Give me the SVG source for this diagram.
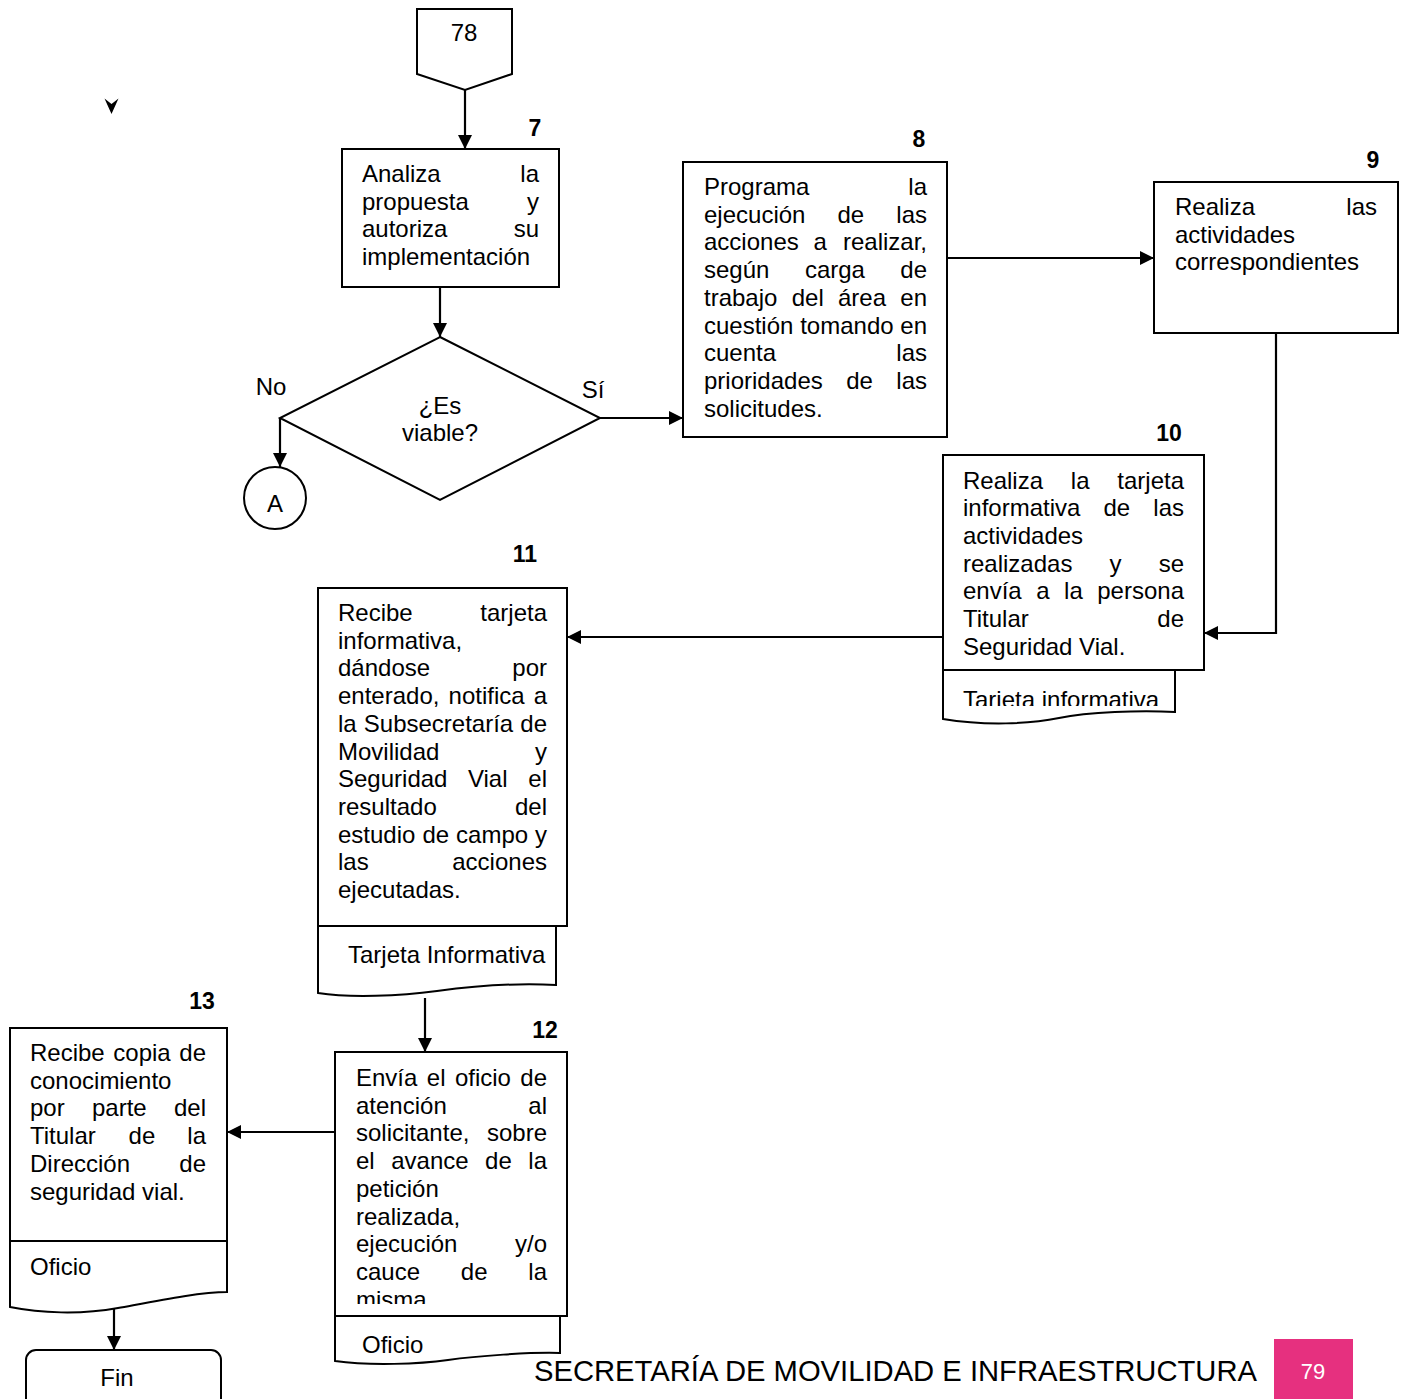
<svg xmlns="http://www.w3.org/2000/svg" width="1405" height="1399" viewBox="0 0 1405 1399">
<style>
.s{fill:#fff;stroke:#000;stroke-width:2}
.t{font-family:"Liberation Sans",Arial,sans-serif;font-size:24px;fill:#000}
.n{font-family:"Liberation Sans",Arial,sans-serif;font-size:23px;font-weight:bold;fill:#000;text-anchor:middle}
.c{fill:none;stroke:#000;stroke-width:2.2}
.e{text-anchor:end}
.m{text-anchor:middle}
</style>
<defs>
<marker id="ah" viewBox="0 0 12 12" refX="12" refY="6" markerWidth="15" markerHeight="14" markerUnits="userSpaceOnUse" orient="auto">
<path d="M0,0 L12,6 L0,12 z" fill="#000"/>
</marker>
<clipPath id="clip10"><rect x="943" y="670" width="232" height="36"/></clipPath>
<clipPath id="clip12"><rect x="335" y="1052" width="232" height="252"/></clipPath>
</defs>
<rect width="1405" height="1399" fill="#fff"/>

<g id="connectors">
<path class="c" d="M465,90 V149" marker-end="url(#ah)"/>
<path class="c" d="M440,287 V337" marker-end="url(#ah)"/>
<path class="c" d="M280,418 V467" marker-end="url(#ah)"/>
<path class="c" d="M600,418 H683" marker-end="url(#ah)"/>
<path class="c" d="M947,258 H1154" marker-end="url(#ah)"/>
<path class="c" d="M1276,333 V633 H1204" marker-end="url(#ah)"/>
<path class="c" d="M943,637 H567" marker-end="url(#ah)"/>
<path class="c" d="M425,998 V1052" marker-end="url(#ah)"/>
<path class="c" d="M335,1132 H227" marker-end="url(#ah)"/>
<path class="c" d="M114,1306 V1350" marker-end="url(#ah)"/>
<path d="M104.5,98.5 L111.5,114 L118.5,98.5 L111.5,104 z" fill="#000"/>
</g>

<g id="offpage-78">
<path class="s" d="M417,9 H512 V74 L465,90 L417,74 z"/>
<text class="t m" x="464" y="41">78</text>
</g>

<g id="step7">
<text class="n" x="535" y="136">7</text>
<rect class="s" x="342" y="149" width="217" height="138"/>
<text class="t"><tspan x="362" y="182">Analiza</tspan><tspan class="e" x="539" y="182">la</tspan></text>
<text class="t"><tspan x="362" y="209.6">propuesta</tspan><tspan class="e" x="539" y="209.6">y</tspan></text>
<text class="t"><tspan x="362" y="237.2">autoriza</tspan><tspan class="e" x="539" y="237.2">su</tspan></text>
<text class="t" x="362" y="264.8">implementación</text>
</g>

<g id="decision">
<path class="s" d="M440,337 L600,418 L440,500 L280,418 z"/>
<text class="t m" x="440" y="414">¿Es</text>
<text class="t m" x="440" y="441">viable?</text>
<text class="t m" x="271" y="395">No</text>
<text class="t m" x="593" y="398">Sí</text>
</g>

<g id="connector-A">
<circle class="s" cx="275" cy="498" r="31"/>
<text class="t m" x="275" y="512">A</text>
</g>

<g id="step8">
<text class="n" x="919" y="147">8</text>
<rect class="s" x="683" y="162" width="264" height="275"/>
<text class="t"><tspan x="704" y="195">Programa</tspan><tspan class="e" x="927" y="195">la</tspan></text>
<text class="t"><tspan x="704" y="222.7">ejecución</tspan><tspan x="837.5" y="222.7">de</tspan><tspan class="e" x="927" y="222.7">las</tspan></text>
<text class="t"><tspan x="704" y="250.4">acciones</tspan><tspan x="813.6" y="250.4">a</tspan><tspan class="e" x="927" y="250.4">realizar,</tspan></text>
<text class="t"><tspan x="704" y="278.1">según</tspan><tspan x="804.9" y="278.1">carga</tspan><tspan class="e" x="927" y="278.1">de</tspan></text>
<text class="t"><tspan x="704" y="305.8">trabajo</tspan><tspan x="791.7" y="305.8">del</tspan><tspan x="838" y="305.8">área</tspan><tspan class="e" x="927" y="305.8">en</tspan></text>
<text class="t"><tspan x="704" y="333.5">cuestión</tspan><tspan x="800.2" y="333.5">tomando</tspan><tspan class="e" x="927" y="333.5">en</tspan></text>
<text class="t"><tspan x="704" y="361.2">cuenta</tspan><tspan class="e" x="927" y="361.2">las</tspan></text>
<text class="t"><tspan x="704" y="388.9">prioridades</tspan><tspan x="846.2" y="388.9">de</tspan><tspan class="e" x="927" y="388.9">las</tspan></text>
<text class="t" x="704" y="416.6">solicitudes.</text>
</g>

<g id="step9">
<text class="n" x="1373" y="168">9</text>
<rect class="s" x="1154" y="182" width="244" height="151"/>
<text class="t"><tspan x="1175" y="215">Realiza</tspan><tspan class="e" x="1377" y="215">las</tspan></text>
<text class="t" x="1175" y="242.6">actividades</text>
<text class="t" x="1175" y="270.2">correspondientes</text>
</g>

<g id="step10">
<text class="n" x="1169" y="441">10</text>
<path class="s" d="M943,670 V719 C985,726 1030,724 1059,718 S1140,710 1175,712 V670 z"/>
<rect class="s" x="943" y="455" width="261" height="215"/>
<text class="t"><tspan x="963" y="488.5">Realiza</tspan><tspan x="1070.8" y="488.5">la</tspan><tspan class="e" x="1184" y="488.5">tarjeta</tspan></text>
<text class="t"><tspan x="963" y="516.2">informativa</tspan><tspan x="1103.5" y="516.2">de</tspan><tspan class="e" x="1184" y="516.2">las</tspan></text>
<text class="t" x="963" y="543.9">actividades</text>
<text class="t"><tspan x="963" y="571.6">realizadas</tspan><tspan x="1109.6" y="571.6">y</tspan><tspan class="e" x="1184" y="571.6">se</tspan></text>
<text class="t"><tspan x="963" y="599.3">envía</tspan><tspan x="1036.2" y="599.3">a</tspan><tspan x="1064.1" y="599.3">la</tspan><tspan class="e" x="1184" y="599.3">persona</tspan></text>
<text class="t"><tspan x="963" y="627">Titular</tspan><tspan class="e" x="1184" y="627">de</tspan></text>
<text class="t" x="963" y="654.7">Seguridad Vial.</text>
<text class="t" x="963" y="708" clip-path="url(#clip10)">Tarjeta informativa</text>
</g>

<g id="step11">
<text class="n" x="525" y="562">11</text>
<path class="s" d="M318,926 V993 C350,998 400,996 437,991 S520,983 556,985 V926 z"/>
<rect class="s" x="318" y="588" width="249" height="338"/>
<text class="t"><tspan x="338" y="621">Recibe</tspan><tspan class="e" x="547" y="621">tarjeta</tspan></text>
<text class="t" x="338" y="648.7">informativa,</text>
<text class="t"><tspan x="338" y="676.4">dándose</tspan><tspan class="e" x="547" y="676.4">por</tspan></text>
<text class="t"><tspan x="338" y="704.1">enterado,</tspan><tspan x="448.6" y="704.1">notifica</tspan><tspan class="e" x="547" y="704.1">a</tspan></text>
<text class="t"><tspan x="338" y="731.8">la</tspan><tspan x="363.8" y="731.8">Subsecretaría</tspan><tspan class="e" x="547" y="731.8">de</tspan></text>
<text class="t"><tspan x="338" y="759.5">Movilidad</tspan><tspan class="e" x="547" y="759.5">y</tspan></text>
<text class="t"><tspan x="338" y="787.2">Seguridad</tspan><tspan x="467.9" y="787.2">Vial</tspan><tspan class="e" x="547" y="787.2">el</tspan></text>
<text class="t"><tspan x="338" y="814.9">resultado</tspan><tspan class="e" x="547" y="814.9">del</tspan></text>
<text class="t"><tspan x="338" y="842.6">estudio</tspan><tspan x="422.4" y="842.6">de</tspan><tspan x="456.1" y="842.6">campo</tspan><tspan class="e" x="547" y="842.6">y</tspan></text>
<text class="t"><tspan x="338" y="870.3">las</tspan><tspan class="e" x="547" y="870.3">acciones</tspan></text>
<text class="t" x="338" y="898">ejecutadas.</text>
<text class="t" x="348" y="963">Tarjeta Informativa</text>
</g>

<g id="step12">
<text class="n" x="545" y="1038">12</text>
<path class="s" d="M335,1316 V1361 C370,1366 420,1364 448,1360 S530,1352 560,1353 V1316 z"/>
<rect class="s" x="335" y="1052" width="232" height="264"/>
<g clip-path="url(#clip12)">
<text class="t"><tspan x="356" y="1086">Envía</tspan><tspan x="426.8" y="1086">el</tspan><tspan x="454.9" y="1086">oficio</tspan><tspan class="e" x="547" y="1086">de</tspan></text>
<text class="t"><tspan x="356" y="1113.7">atención</tspan><tspan class="e" x="547" y="1113.7">al</tspan></text>
<text class="t"><tspan x="356" y="1141.4">solicitante,</tspan><tspan class="e" x="547" y="1141.4">sobre</tspan></text>
<text class="t"><tspan x="356" y="1169.1">el</tspan><tspan x="391.2" y="1169.1">avance</tspan><tspan x="485.1" y="1169.1">de</tspan><tspan class="e" x="547" y="1169.1">la</tspan></text>
<text class="t" x="356" y="1196.8">petición</text>
<text class="t" x="356" y="1224.5">realizada,</text>
<text class="t"><tspan x="356" y="1252.2">ejecución</tspan><tspan class="e" x="547" y="1252.2">y/o</tspan></text>
<text class="t"><tspan x="356" y="1279.9">cauce</tspan><tspan x="460.8" y="1279.9">de</tspan><tspan class="e" x="547" y="1279.9">la</tspan></text>
<text class="t" x="356" y="1307.6">misma</text>
</g>
<text class="t" x="362" y="1353">Oficio</text>
</g>

<g id="step13">
<text class="n" x="202" y="1009">13</text>
<path class="s" d="M10,1241 V1307 C40,1313 80,1315 118,1308 S200,1292 227,1292 V1241 z"/>
<rect class="s" x="10" y="1028" width="217" height="213"/>
<text class="t"><tspan x="30" y="1061">Recibe</tspan><tspan x="113.3" y="1061">copia</tspan><tspan class="e" x="206" y="1061">de</tspan></text>
<text class="t" x="30" y="1088.7">conocimiento</text>
<text class="t"><tspan x="30" y="1116.4">por</tspan><tspan x="92" y="1116.4">parte</tspan><tspan class="e" x="206" y="1116.4">del</tspan></text>
<text class="t"><tspan x="30" y="1144.1">Titular</tspan><tspan x="128.6" y="1144.1">de</tspan><tspan class="e" x="206" y="1144.1">la</tspan></text>
<text class="t"><tspan x="30" y="1171.8">Dirección</tspan><tspan class="e" x="206" y="1171.8">de</tspan></text>
<text class="t" x="30" y="1199.5">seguridad vial.</text>
<text class="t" x="30" y="1275">Oficio</text>
</g>

<g id="fin">
<rect class="s" x="26" y="1350" width="195" height="62" rx="10"/>
<text class="t m" x="117" y="1386">Fin</text>
</g>

<g id="footer">
<text x="534" y="1381" font-family="'Liberation Sans',Arial,sans-serif" font-size="30" textLength="723" lengthAdjust="spacingAndGlyphs" fill="#000">SECRETARÍA DE MOVILIDAD E INFRAESTRUCTURA</text>
<rect x="1274" y="1339" width="79" height="60" fill="#E6307F"/>
<text x="1313" y="1379" font-family="'Liberation Sans',Arial,sans-serif" font-size="22" fill="#fff" text-anchor="middle">79</text>
</g>
</svg>
